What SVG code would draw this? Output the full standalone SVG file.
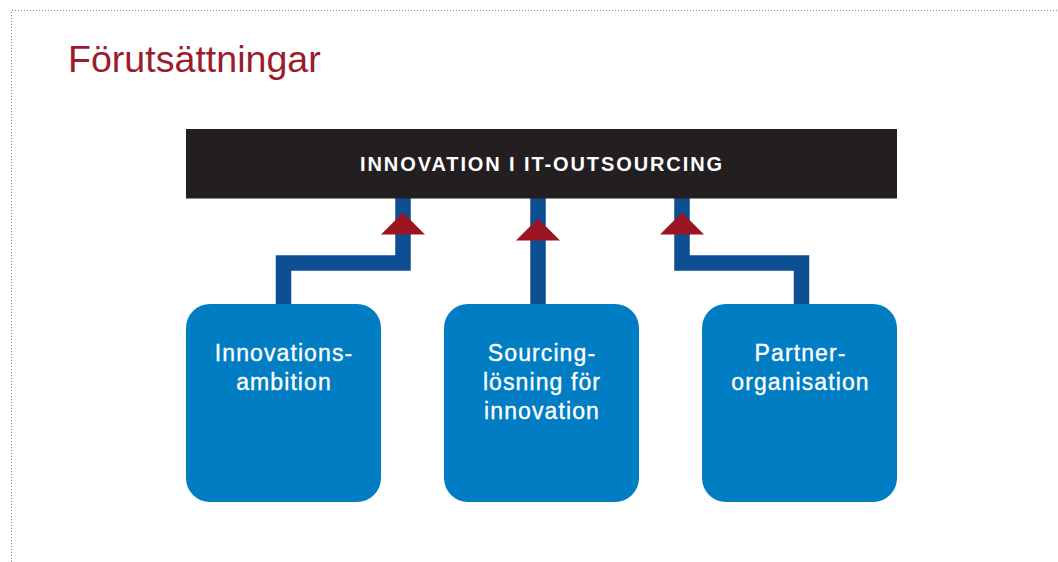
<svg xmlns="http://www.w3.org/2000/svg" width="1058" height="562" viewBox="0 0 1058 562">
<style>
.frame{fill:none;stroke:#8a8a8a;stroke-width:1;stroke-dasharray:1 2}
.title{font-family:"Liberation Sans",Arial,sans-serif;font-size:37.6px;fill:#9b1c2c}
.head{font-family:"Liberation Sans",Arial,sans-serif;font-size:20px;font-weight:bold;fill:#ffffff;letter-spacing:1.9px}
.box{fill:#007dc3}
.lbl{font-family:"Liberation Sans",Arial,sans-serif;font-size:23px;fill:#ffffff;stroke:#ffffff;stroke-width:0.35;letter-spacing:1.1px;text-anchor:middle}
.wire{fill:none;stroke:#0d4f92;stroke-width:15.5;stroke-linejoin:miter;stroke-linecap:butt}
.arrow{fill:#9b1422}
</style>
<rect width="1058" height="562" fill="#ffffff"/>
<path class="frame" d="M11.5 562 V10.5 H1058"/>
<text class="title" x="68" y="72">Förutsättningar</text>

<g id="connectors">
  <path class="wire" d="M283.5 304 V263 H403 V198"/>
  <path class="wire" d="M538 304 V198"/>
  <path class="wire" d="M801.5 304 V263 H682 V198"/>
  <polygon class="arrow" points="403,212.5 425,234.5 381,234.5"/>
  <polygon class="arrow" points="538,218.5 560,240.5 516,240.5"/>
  <polygon class="arrow" points="682,212.5 704,234.5 660,234.5"/>
</g>

<g id="header">
  <rect x="186" y="129" width="711" height="69.5" fill="#231f20"/>
  <text class="head" x="542" y="171" text-anchor="middle">INNOVATION I IT-OUTSOURCING</text>
</g>

<g id="node-innovationsambition">
  <rect class="box" x="186" y="304" width="195" height="198" rx="24" ry="24"/>
  <text class="lbl" x="284" y="361">Innovations-</text>
  <text class="lbl" x="284" y="390">ambition</text>
</g>

<g id="node-sourcing">
  <rect class="box" x="444" y="304" width="195" height="198" rx="24" ry="24"/>
  <text class="lbl" x="542" y="361">Sourcing-</text>
  <text class="lbl" x="542" y="390">lösning för</text>
  <text class="lbl" x="542" y="419">innovation</text>
</g>

<g id="node-partnerorganisation">
  <rect class="box" x="702" y="304" width="195" height="198" rx="24" ry="24"/>
  <text class="lbl" x="800.5" y="361">Partner-</text>
  <text class="lbl" x="800.5" y="390">organisation</text>
</g>
</svg>
